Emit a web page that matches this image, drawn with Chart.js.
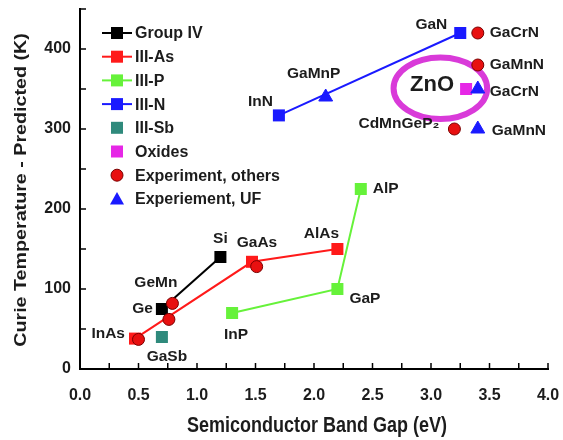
<!DOCTYPE html>
<html><head><meta charset="utf-8">
<script src="https://cdn.jsdelivr.net/npm/chart.js@4/dist/chart.umd.min.js"></script>
<style>html,body{margin:0;padding:0;background:#fff}#wrap{width:563px;height:440px;position:relative}</style>
</head><body><div id="wrap"><canvas id="c"></canvas></div>
<script>
// ---- data ----
const groupIVNames = ['Ge', 'Si'];
const groupIVGap = [0.7, 1.2];
const groupIVTc = [75, 140];

const iiiAsNames = ['InAs', 'GaAs', 'AlAs'];
const iiiAsGap = [0.47, 1.47, 2.2];
const iiiAsTc = [38, 134, 150];

const iiiPNames = ['InP', 'GaP', 'AlP'];
const iiiPGap = [1.3, 2.2, 2.4];
const iiiPTc = [70, 100, 225];

const iiiNNames = ['InN', 'GaN'];
const iiiNGap = [1.7, 3.25];
const iiiNTc = [317, 420];

const iiiSbNames = ['GaSb'];
const iiiSbGap = [0.7];
const iiiSbTc = [40];

const oxideNames = ['ZnO'];
const oxideGap = [3.3];
const oxideTc = [350];

const expOthersNames = ['', '', 'GeMn', '', 'GaCrN', 'GaMnN', 'CdMnGeP\u2082'];
const expOthersGap = [0.5, 0.76, 0.79, 1.51, 3.4, 3.4, 3.2];
const expOthersTc = [37, 62, 82, 128, 420, 380, 300];

const expUFNames = ['GaMnP', 'GaCrN', 'GaMnN'];
const expUFGap = [2.1, 3.4, 3.4];
const expUFTc = [340, 350, 300];

const legendLabels = ['Group IV', 'III-As', 'III-P', 'III-N', 'III-Sb', 'Oxides', 'Experiment, others', 'Experiement, UF'];
const xTitle = 'Semiconductor Band Gap (eV)';
const yTitle = 'Curie Temperature - Predicted (K)';

// ---- styles ----
const C = {black:'#000000', red:'#ff1a1a', green:'#66f23a', blue:'#1a1aff', teal:'#2f8a7c', magenta:'#e627e6', circle:'#e81010', circleEdge:'#7a0000', text:'#1c1c1c', ellipse:'#d93ad9'};
const FONT = '"Liberation Sans", Arial, sans-serif';

// label offsets (pixels) keyed by name index per series: [dx, dy, align]
const labelOffsets = {
  groupIV: [[-9, 0, 'right'], [0, -18, 'center']],
  iiiAs: [[-10, -5, 'right'], [5, -19, 'center'], [-16, -15, 'center']],
  iiiP: [[4, 22, 'center'], [12, 10, 'left'], [12, 0, 'left']],
  iiiN: [[-6, -14, 'right'], [-13, -8, 'right']],
  iiiSb: [[5, 20, 'center']],
  expOthers: [null, null, [5, -21, 'right'], null, [12, 0, 'left'], [12, 0, 'left'], [-15, -5, 'right']],
  expUF: [[-12, -23, 'center'], [12, 3, 'left'], [14, 2, 'left']]
};

function pts(xs, ys) { return xs.map((x, i) => ({x: x, y: ys[i]})); }

const datasets = [
  {label: legendLabels[0], data: pts(groupIVGap, groupIVTc), showLine: true, borderColor: C.black, backgroundColor: C.black, pointStyle: 'rect', pointRadius: 8.5, borderWidth: 2, pointBorderWidth: 0, order: 5},
  {label: legendLabels[1], data: pts(iiiAsGap, iiiAsTc), showLine: true, borderColor: C.red, backgroundColor: C.red, pointStyle: 'rect', pointRadius: 8.5, borderWidth: 2, pointBorderWidth: 0, order: 6},
  {label: legendLabels[2], data: pts(iiiPGap, iiiPTc), showLine: true, borderColor: C.green, backgroundColor: C.green, pointStyle: 'rect', pointRadius: 8.5, borderWidth: 2, pointBorderWidth: 0, order: 7},
  {label: legendLabels[3], data: pts(iiiNGap, iiiNTc), showLine: true, borderColor: C.blue, backgroundColor: C.blue, pointStyle: 'rect', pointRadius: 8.5, borderWidth: 2, pointBorderWidth: 0, order: 8},
  {label: legendLabels[4], data: pts(iiiSbGap, iiiSbTc), showLine: false, borderColor: C.teal, backgroundColor: C.teal, pointStyle: 'rect', pointRadius: 8.5, pointBorderWidth: 0, order: 4},
  {label: legendLabels[5], data: pts(oxideGap, oxideTc), showLine: false, borderColor: C.magenta, backgroundColor: C.magenta, pointStyle: 'rect', pointRadius: 8.5, pointBorderWidth: 0, order: 3},
  {label: legendLabels[6], data: pts(expOthersGap, expOthersTc), showLine: false, borderColor: C.circleEdge, backgroundColor: C.circle, pointStyle: 'circle', pointRadius: 6, pointBorderWidth: 1, order: 2},
  {label: legendLabels[7], data: pts(expUFGap, expUFTc), showLine: false, borderColor: C.blue, backgroundColor: C.blue, pointStyle: 'triangle', pointRadius: 8, pointBorderWidth: 1, order: 1}
];

const seriesNames = [
  ['groupIV', groupIVNames, 0], ['iiiAs', iiiAsNames, 1], ['iiiP', iiiPNames, 2], ['iiiN', iiiNNames, 3],
  ['iiiSb', iiiSbNames, 4], ['expOthers', expOthersNames, 6], ['expUF', expUFNames, 7]
];

const decor = {
  id: 'decor',
  beforeDatasetsDraw(chart) {
    const ctx = chart.ctx, xs = chart.scales.x, ys = chart.scales.y;
    // ellipse around ZnO
    const cx = xs.getPixelForValue(3.08), cy = ys.getPixelForValue(351);
    const rx = xs.getPixelForValue(3.08 + 0.4) - cx, ry = cy - ys.getPixelForValue(351 + 38.5);
    ctx.save();
    ctx.strokeStyle = C.ellipse; ctx.lineWidth = 6;
    ctx.beginPath(); ctx.ellipse(cx, cy, rx, ry, 0, 0, Math.PI * 2); ctx.stroke();
    ctx.restore();
  },
  afterDraw(chart) {
    const ctx = chart.ctx, xs = chart.scales.x, ys = chart.scales.y, a = chart.chartArea;
    ctx.save();
    // inward tick marks
    ctx.strokeStyle = '#000'; ctx.lineWidth = 1.5;
    xs.ticks.forEach(t => { const px = xs.getPixelForValue(t.value); ctx.beginPath(); ctx.moveTo(px, a.bottom); ctx.lineTo(px, a.bottom - 6); ctx.stroke(); });
    ys.ticks.forEach(t => { const py = ys.getPixelForValue(t.value); ctx.beginPath(); ctx.moveTo(a.left, py); ctx.lineTo(a.left + 6, py); ctx.stroke(); });
    // point labels
    ctx.fillStyle = C.text; ctx.textBaseline = 'middle';
    ctx.font = 'bold 15.5px ' + FONT;
    seriesNames.forEach(([key, names, di]) => {
      const meta = chart.getDatasetMeta(di);
      names.forEach((n, i) => {
        const off = labelOffsets[key][i];
        if (!n || !off) return;
        const el = meta.data[i];
        ctx.textAlign = off[2];
        ctx.fillText(n, el.x + off[0], el.y + off[1]);
      });
    });
    // ZnO big label
    const zm = chart.getDatasetMeta(5).data[0];
    ctx.font = 'bold 22px ' + FONT; ctx.textAlign = 'right';
    ctx.fillText(oxideNames[0], zm.x - 12, zm.y - 4);
    // axis titles
    ctx.font = 'bold 18px ' + FONT; ctx.textAlign = 'center';
    ctx.save(); ctx.translate(317, 426); ctx.scale(1, 1.2); ctx.fillText(xTitle, 0, 0); ctx.restore();
    ctx.font = 'bold 16px ' + FONT;
    ctx.save(); ctx.translate(22, 190); ctx.rotate(-Math.PI / 2); ctx.scale(1.23, 1); ctx.fillText(yTitle, 0, 0); ctx.restore();
    // legend
    const lx0 = 102, lx1 = 132, tx = 135, ly0 = 33, dy = 23.7;
    ctx.font = 'bold 16px ' + FONT; ctx.textAlign = 'left';
    legendLabels.forEach((lab, i) => {
      const ds = datasets[i], y = ly0 + i * dy, mx = (lx0 + lx1) / 2;
      if (ds.showLine) { ctx.strokeStyle = ds.borderColor; ctx.lineWidth = 2; ctx.beginPath(); ctx.moveTo(lx0, y); ctx.lineTo(lx1, y); ctx.stroke(); }
      ctx.fillStyle = ds.backgroundColor; ctx.strokeStyle = ds.borderColor; ctx.lineWidth = ds.pointBorderWidth || 0;
      ctx.beginPath();
      if (ds.pointStyle === 'rect') { ctx.rect(mx - 6, y - 6, 12, 12); ctx.fill(); }
      else if (ds.pointStyle === 'circle') { ctx.arc(mx, y, 6, 0, Math.PI * 2); ctx.fill(); if (ctx.lineWidth) ctx.stroke(); }
      else { ctx.moveTo(mx, y - 7); ctx.lineTo(mx + 7, y + 5.5); ctx.lineTo(mx - 7, y + 5.5); ctx.closePath(); ctx.fill(); }
      ctx.fillStyle = C.text;
      ctx.fillText(lab, tx, y + 1);
    });
    ctx.restore();
  }
};

new Chart(document.getElementById('c'), {
  type: 'scatter',
  data: {datasets: datasets},
  options: {
    responsive: true, maintainAspectRatio: false, animation: false,
    layout: {padding: {left: 0, right: 15, top: 7, bottom: 0}},
    plugins: {legend: {display: false}, tooltip: {enabled: false}},
    scales: {
      x: {type: 'linear', min: 0, max: 4,
        afterFit: s => { s.height = 71; s.paddingLeft = 0; s.paddingRight = 0; },
        grid: {display: false, drawTicks: false},
        border: {display: true, color: '#000', width: 2},
        ticks: {stepSize: 0.25, padding: 17, color: C.text, font: {family: FONT, weight: 'bold', size: 16},
          callback: v => (Math.abs(v * 2 - Math.round(v * 2)) < 1e-6 ? v.toFixed(1) : '')}
      },
      y: {type: 'linear', min: 0, max: 450,
        afterFit: s => { s.width = 80; s.paddingTop = 0; s.paddingBottom = 0; },
        grid: {display: false, drawTicks: false},
        border: {display: true, color: '#000', width: 2},
        ticks: {stepSize: 50, padding: 9, color: C.text, font: {family: FONT, weight: 'bold', size: 16},
          callback: v => (v % 100 === 0 ? String(v) : '')}
      }
    }
  },
  plugins: [decor]
});
</script></body></html>
